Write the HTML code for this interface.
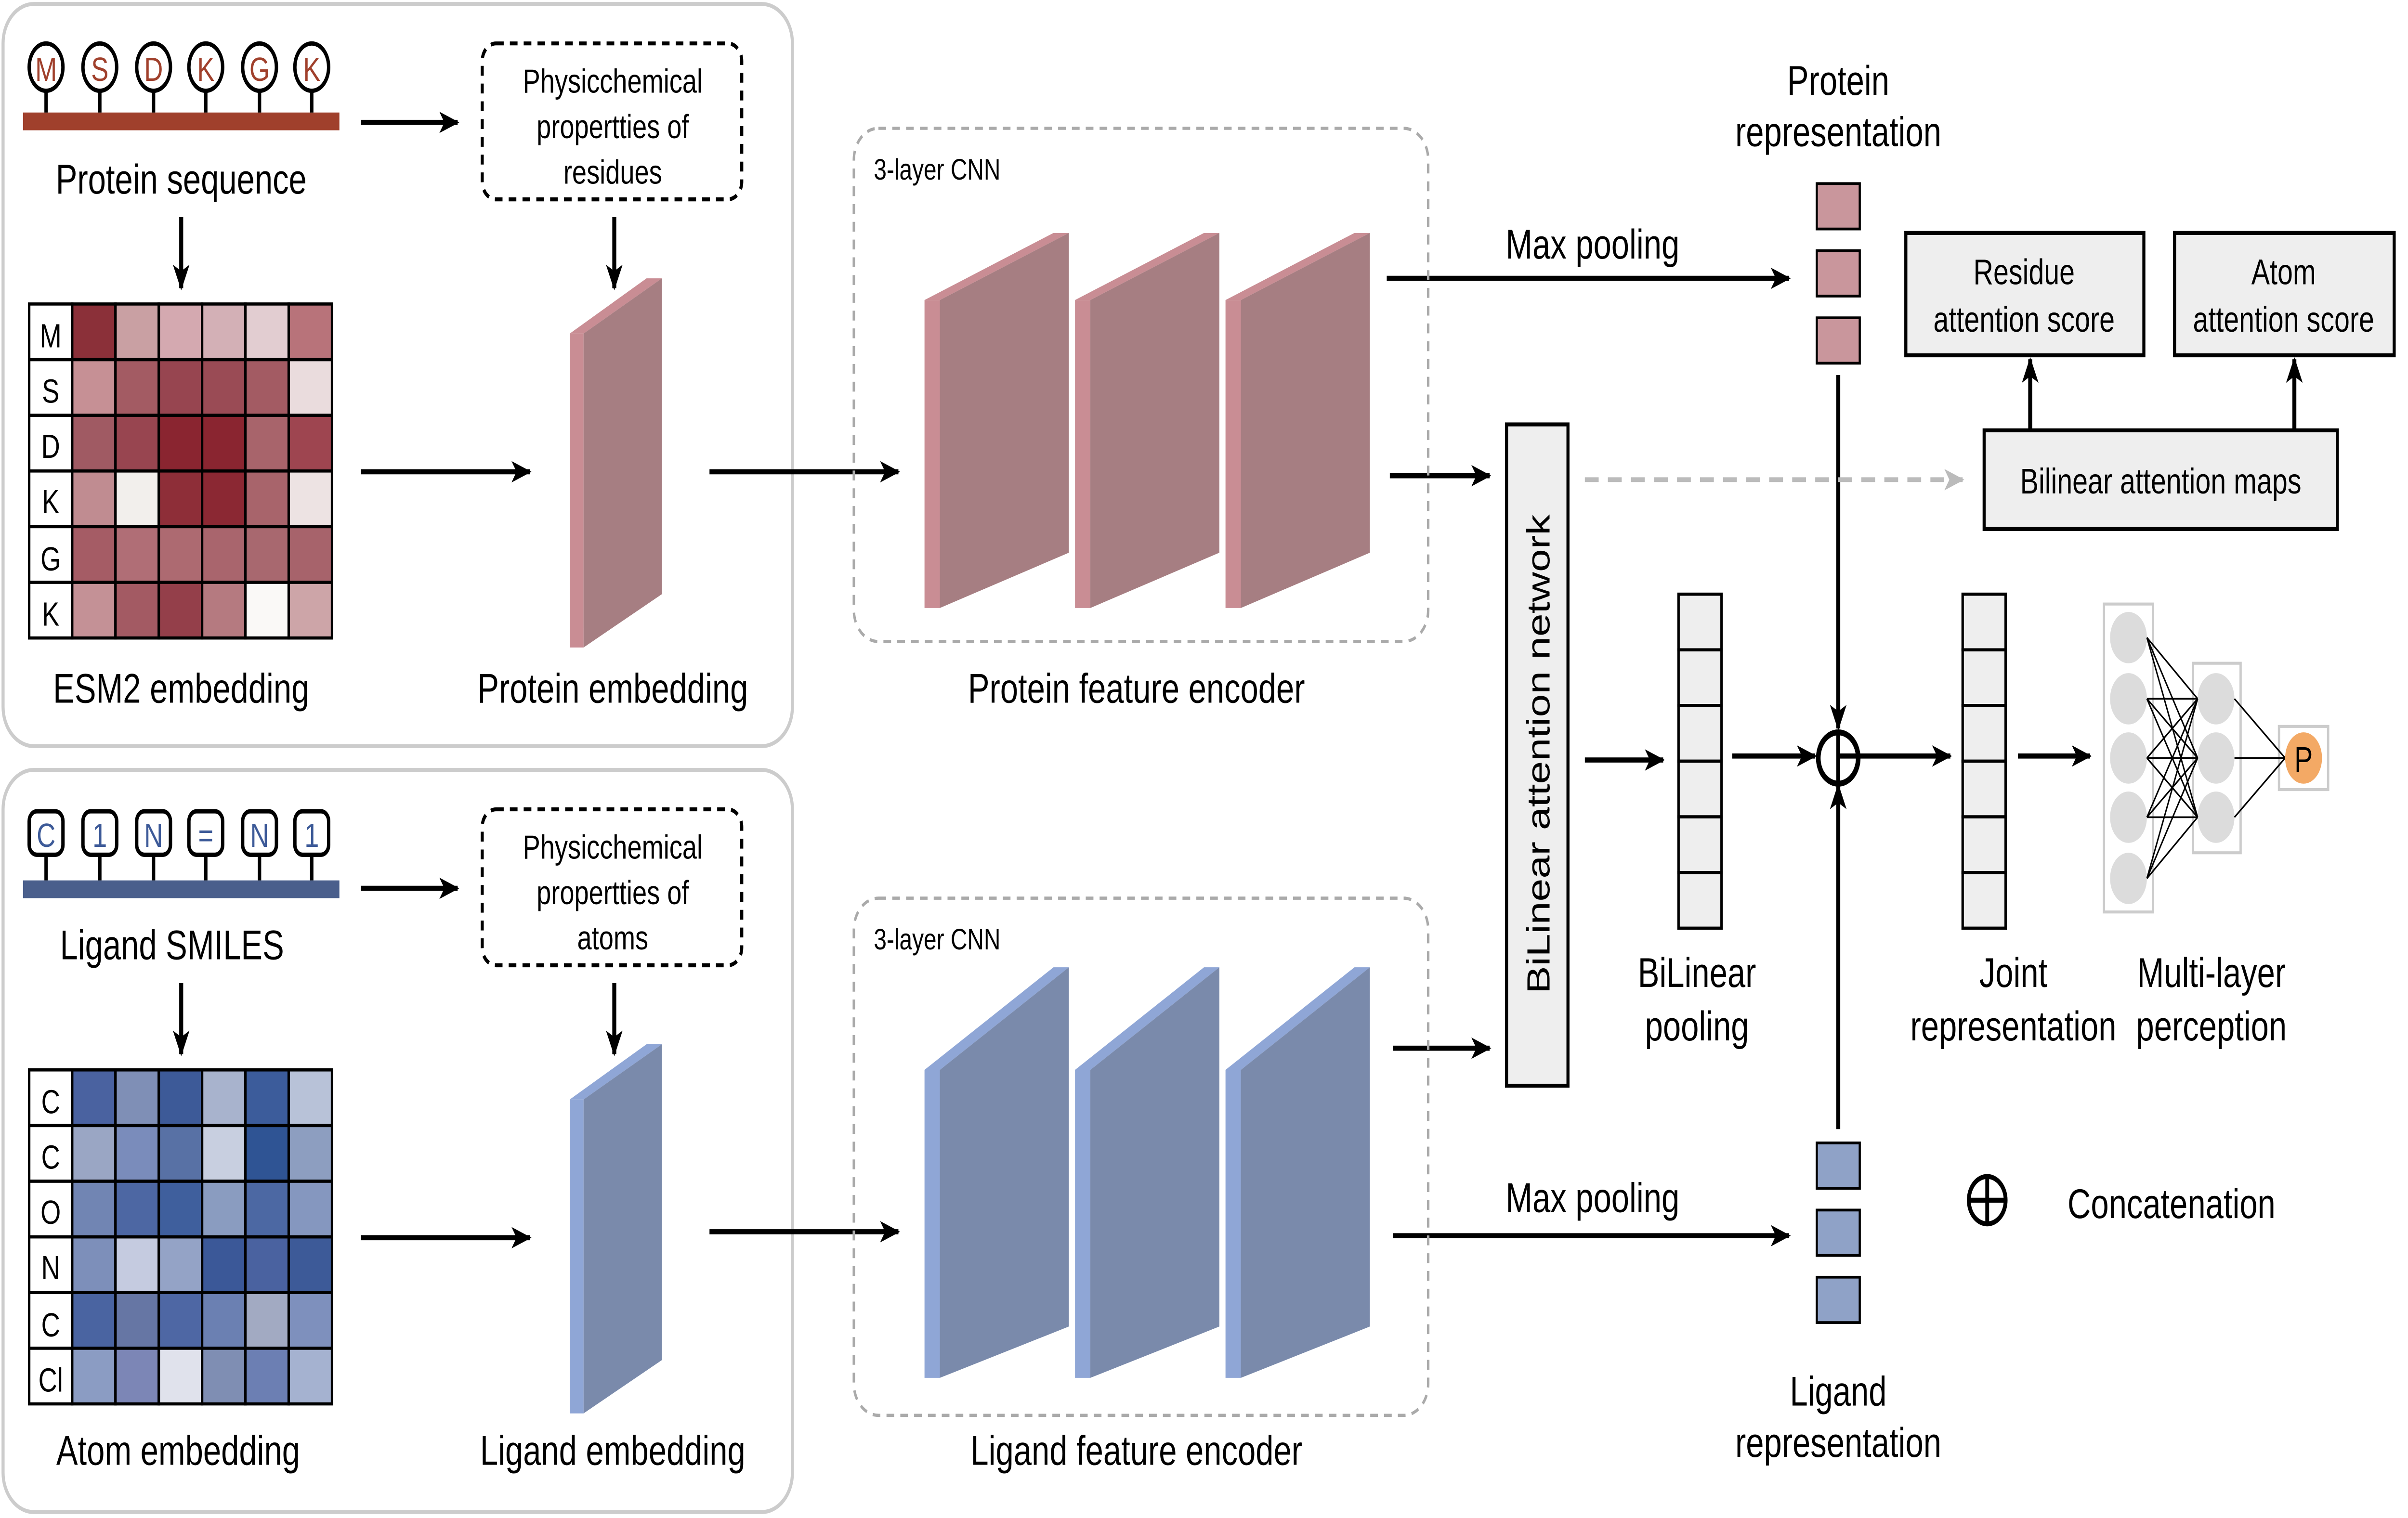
<!DOCTYPE html>
<html><head><meta charset="utf-8"><style>html,body{margin:0;padding:0;background:#fff;width:100%;height:100%;overflow:hidden}svg{display:block;width:100vw;height:100vh}</style></head><body>
<svg xmlns="http://www.w3.org/2000/svg" viewBox="0 0 1568 769" preserveAspectRatio="none" font-family="Liberation Sans, Arial, sans-serif">
<defs>
<marker id="ah" viewBox="0 0 12 10" refX="11" refY="5" markerWidth="13" markerHeight="11" markerUnits="userSpaceOnUse" orient="auto"><path d="M0,0 L12,5 L0,10 L3,5 z" fill="#000"/></marker>
<marker id="ag" viewBox="0 0 12 10" refX="11" refY="5" markerWidth="13" markerHeight="11" markerUnits="userSpaceOnUse" orient="auto"><path d="M0,0 L12,5 L0,10 L3,5 z" fill="#bbb"/></marker>
</defs>
<rect width="1568" height="769" fill="#fff"/>
<rect x="2" y="2" width="514" height="376" rx="20" fill="none" stroke="#ccc" stroke-width="2"/>
<rect x="2" y="390" width="514" height="376" rx="20" fill="none" stroke="#ccc" stroke-width="2"/>

<g stroke="#000" stroke-width="2.6" fill="none">
<line x1="235" y1="62" x2="298" y2="62" marker-end="url(#ah)"/>
<line x1="118" y1="110" x2="118" y2="146" marker-end="url(#ah)"/>
<line x1="400" y1="110" x2="400" y2="146" marker-end="url(#ah)"/>
<line x1="235" y1="239" x2="345" y2="239" marker-end="url(#ah)"/>
<line x1="462" y1="239" x2="585" y2="239" marker-end="url(#ah)"/>
<line x1="235" y1="450" x2="298" y2="450" marker-end="url(#ah)"/>
<line x1="118" y1="498" x2="118" y2="534" marker-end="url(#ah)"/>
<line x1="400" y1="498" x2="400" y2="534" marker-end="url(#ah)"/>
<line x1="235" y1="627" x2="345" y2="627" marker-end="url(#ah)"/>
<line x1="462" y1="624" x2="585" y2="624" marker-end="url(#ah)"/>
<line x1="903" y1="141" x2="1165" y2="141" marker-end="url(#ah)"/>
<line x1="905" y1="241" x2="970" y2="241" marker-end="url(#ah)"/>
<line x1="907" y1="626" x2="1165" y2="626" marker-end="url(#ah)"/>
<line x1="907" y1="531" x2="970" y2="531" marker-end="url(#ah)"/>
<line x1="1032" y1="385" x2="1083" y2="385" marker-end="url(#ah)"/>
<line x1="1128" y1="383" x2="1182" y2="383" marker-end="url(#ah)"/>
<line x1="1197" y1="383" x2="1270" y2="383" marker-end="url(#ah)"/>
<line x1="1314" y1="383" x2="1361" y2="383" marker-end="url(#ah)"/>
<line x1="1197" y1="190" x2="1197" y2="369" marker-end="url(#ah)"/>
<line x1="1197" y1="572" x2="1197" y2="398" marker-end="url(#ah)"/>
<line x1="1322" y1="218" x2="1322" y2="182" marker-end="url(#ah)"/>
<line x1="1494" y1="218" x2="1494" y2="182" marker-end="url(#ah)"/>
</g>
<line x1="1032" y1="243" x2="1278" y2="243" stroke="#bbb" stroke-width="2.4" stroke-dasharray="9,6" marker-end="url(#ag)"/>

<rect x="15" y="57" width="206" height="9" fill="#a0402c"/>
<g stroke="#000" stroke-width="2.2" fill="#fff">
<line x1="30" y1="44" x2="30" y2="57"/><line x1="65" y1="44" x2="65" y2="57"/><line x1="100" y1="44" x2="100" y2="57"/><line x1="134" y1="44" x2="134" y2="57"/><line x1="169" y1="44" x2="169" y2="57"/><line x1="203" y1="44" x2="203" y2="57"/>
<ellipse cx="30" cy="34" rx="11" ry="12"/><ellipse cx="65" cy="34" rx="11" ry="12"/><ellipse cx="100" cy="34" rx="11" ry="12"/><ellipse cx="134" cy="34" rx="11" ry="12"/><ellipse cx="169" cy="34" rx="11" ry="12"/><ellipse cx="203" cy="34" rx="11" ry="12"/>
</g>
<g fill="#a0402c" font-size="17" text-anchor="middle">
<text x="30" y="41">M</text><text x="65" y="41">S</text><text x="100" y="41">D</text><text x="134" y="41">K</text><text x="169" y="41">G</text><text x="203" y="41">K</text>
</g>
<rect x="15" y="446" width="206" height="9" fill="#4a5f8c"/>
<g stroke="#000" stroke-width="2.2" fill="#fff">
<line x1="30" y1="433" x2="30" y2="446"/><line x1="65" y1="433" x2="65" y2="446"/><line x1="100" y1="433" x2="100" y2="446"/><line x1="134" y1="433" x2="134" y2="446"/><line x1="169" y1="433" x2="169" y2="446"/><line x1="203" y1="433" x2="203" y2="446"/>
<rect x="19" y="411" width="22" height="22" rx="5"/><rect x="54" y="411" width="22" height="22" rx="5"/><rect x="89" y="411" width="22" height="22" rx="5"/><rect x="123" y="411" width="22" height="22" rx="5"/><rect x="158" y="411" width="22" height="22" rx="5"/><rect x="192" y="411" width="22" height="22" rx="5"/>
</g>
<g fill="#3d5a98" font-size="17" text-anchor="middle">
<text x="30" y="429">C</text><text x="65" y="429">1</text><text x="100" y="429">N</text><text x="134" y="429">=</text><text x="169" y="429">N</text><text x="203" y="429">1</text>
</g>

<g stroke="#000" stroke-width="1.6">
<g transform="translate(19,154)">
<rect x="0" y="0" width="28" height="28.2" fill="#fff"/><rect x="28" y="0" width="28.2" height="28.2" fill="#8b3039"/><rect x="56.2" y="0" width="28.2" height="28.2" fill="#c9a0a3"/><rect x="84.4" y="0" width="28.2" height="28.2" fill="#d4a9b0"/><rect x="112.6" y="0" width="28.2" height="28.2" fill="#d3b0b6"/><rect x="140.8" y="0" width="28.2" height="28.2" fill="#e2cdd1"/><rect x="169" y="0" width="28.2" height="28.2" fill="#b8737a"/>
<rect x="0" y="28.2" width="28" height="28.2" fill="#fff"/><rect x="28" y="28.2" width="28.2" height="28.2" fill="#c69095"/><rect x="56.2" y="28.2" width="28.2" height="28.2" fill="#a35b63"/><rect x="84.4" y="28.2" width="28.2" height="28.2" fill="#974550"/><rect x="112.6" y="28.2" width="28.2" height="28.2" fill="#9a4b55"/><rect x="140.8" y="28.2" width="28.2" height="28.2" fill="#a35b63"/><rect x="169" y="28.2" width="28.2" height="28.2" fill="#eadcdd"/>
<rect x="0" y="56.4" width="28" height="28.2" fill="#fff"/><rect x="28" y="56.4" width="28.2" height="28.2" fill="#a05a63"/><rect x="56.2" y="56.4" width="28.2" height="28.2" fill="#984550"/><rect x="84.4" y="56.4" width="28.2" height="28.2" fill="#8a2530"/><rect x="112.6" y="56.4" width="28.2" height="28.2" fill="#8a2530"/><rect x="140.8" y="56.4" width="28.2" height="28.2" fill="#a8646b"/><rect x="169" y="56.4" width="28.2" height="28.2" fill="#9e4550"/>
<rect x="0" y="84.6" width="28" height="28.2" fill="#fff"/><rect x="28" y="84.6" width="28.2" height="28.2" fill="#c08c91"/><rect x="56.2" y="84.6" width="28.2" height="28.2" fill="#f2efec"/><rect x="84.4" y="84.6" width="28.2" height="28.2" fill="#8e2e38"/><rect x="112.6" y="84.6" width="28.2" height="28.2" fill="#8b2833"/><rect x="140.8" y="84.6" width="28.2" height="28.2" fill="#a8646b"/><rect x="169" y="84.6" width="28.2" height="28.2" fill="#ede3e3"/>
<rect x="0" y="112.8" width="28" height="28.2" fill="#fff"/><rect x="28" y="112.8" width="28.2" height="28.2" fill="#a55c65"/><rect x="56.2" y="112.8" width="28.2" height="28.2" fill="#b06e76"/><rect x="84.4" y="112.8" width="28.2" height="28.2" fill="#ad6a71"/><rect x="112.6" y="112.8" width="28.2" height="28.2" fill="#a9656d"/><rect x="140.8" y="112.8" width="28.2" height="28.2" fill="#a8686f"/><rect x="169" y="112.8" width="28.2" height="28.2" fill="#a7636b"/>
<rect x="0" y="141" width="28" height="28.2" fill="#fff"/><rect x="28" y="141" width="28.2" height="28.2" fill="#c49196"/><rect x="56.2" y="141" width="28.2" height="28.2" fill="#a35a63"/><rect x="84.4" y="141" width="28.2" height="28.2" fill="#943f4a"/><rect x="112.6" y="141" width="28.2" height="28.2" fill="#b57a80"/><rect x="140.8" y="141" width="28.2" height="28.2" fill="#faf9f7"/><rect x="169" y="141" width="28.2" height="28.2" fill="#cda5a8"/>
</g>
<g transform="translate(19,542)">
<rect x="0" y="0" width="28" height="28.2" fill="#fff"/><rect x="28" y="0" width="28.2" height="28.2" fill="#4a62a0"/><rect x="56.2" y="0" width="28.2" height="28.2" fill="#7f8fb6"/><rect x="84.4" y="0" width="28.2" height="28.2" fill="#3d5a98"/><rect x="112.6" y="0" width="28.2" height="28.2" fill="#a8b3cd"/><rect x="140.8" y="0" width="28.2" height="28.2" fill="#3c5c9b"/><rect x="169" y="0" width="28.2" height="28.2" fill="#b8c2d8"/>
<rect x="0" y="28.2" width="28" height="28.2" fill="#fff"/><rect x="28" y="28.2" width="28.2" height="28.2" fill="#9aa6c4"/><rect x="56.2" y="28.2" width="28.2" height="28.2" fill="#7a8cbb"/><rect x="84.4" y="28.2" width="28.2" height="28.2" fill="#5871a5"/><rect x="112.6" y="28.2" width="28.2" height="28.2" fill="#c8cfe0"/><rect x="140.8" y="28.2" width="28.2" height="28.2" fill="#2f5494"/><rect x="169" y="28.2" width="28.2" height="28.2" fill="#8d9ec0"/>
<rect x="0" y="56.4" width="28" height="28.2" fill="#fff"/><rect x="28" y="56.4" width="28.2" height="28.2" fill="#7185b3"/><rect x="56.2" y="56.4" width="28.2" height="28.2" fill="#4d67a3"/><rect x="84.4" y="56.4" width="28.2" height="28.2" fill="#3f5f9d"/><rect x="112.6" y="56.4" width="28.2" height="28.2" fill="#8a9cc0"/><rect x="140.8" y="56.4" width="28.2" height="28.2" fill="#4c68a3"/><rect x="169" y="56.4" width="28.2" height="28.2" fill="#8597bf"/>
<rect x="0" y="84.6" width="28" height="28.2" fill="#fff"/><rect x="28" y="84.6" width="28.2" height="28.2" fill="#7d8fba"/><rect x="56.2" y="84.6" width="28.2" height="28.2" fill="#c5cbe0"/><rect x="84.4" y="84.6" width="28.2" height="28.2" fill="#94a3c6"/><rect x="112.6" y="84.6" width="28.2" height="28.2" fill="#3b5898"/><rect x="140.8" y="84.6" width="28.2" height="28.2" fill="#4a62a0"/><rect x="169" y="84.6" width="28.2" height="28.2" fill="#3d5a98"/>
<rect x="0" y="112.8" width="28" height="28.2" fill="#fff"/><rect x="28" y="112.8" width="28.2" height="28.2" fill="#4a64a1"/><rect x="56.2" y="112.8" width="28.2" height="28.2" fill="#6676a4"/><rect x="84.4" y="112.8" width="28.2" height="28.2" fill="#4e67a4"/><rect x="112.6" y="112.8" width="28.2" height="28.2" fill="#6b80b2"/><rect x="140.8" y="112.8" width="28.2" height="28.2" fill="#a2aac2"/><rect x="169" y="112.8" width="28.2" height="28.2" fill="#7e90bd"/>
<rect x="0" y="141" width="28" height="28.2" fill="#fff"/><rect x="28" y="141" width="28.2" height="28.2" fill="#8b9cc3"/><rect x="56.2" y="141" width="28.2" height="28.2" fill="#7c86b6"/><rect x="84.4" y="141" width="28.2" height="28.2" fill="#e0e2ec"/><rect x="112.6" y="141" width="28.2" height="28.2" fill="#7f8eb3"/><rect x="140.8" y="141" width="28.2" height="28.2" fill="#6c7fb3"/><rect x="169" y="141" width="28.2" height="28.2" fill="#a5b2d0"/>
</g>
</g>
<g font-size="17" text-anchor="middle" fill="#000">
<text x="33" y="176">M</text><text x="33" y="204">S</text><text x="33" y="232">D</text><text x="33" y="260">K</text><text x="33" y="289">G</text><text x="33" y="317">K</text>
<text x="33" y="564">C</text><text x="33" y="592">C</text><text x="33" y="620">O</text><text x="33" y="648">N</text><text x="33" y="677">C</text><text x="33" y="705">Cl</text>
</g>

<rect x="314" y="22" width="169" height="79" rx="9" fill="none" stroke="#000" stroke-width="2" stroke-dasharray="5,4"/>
<rect x="314" y="410" width="169" height="79" rx="9" fill="none" stroke="#000" stroke-width="2" stroke-dasharray="5,4"/>
<g font-size="17" text-anchor="middle">
<text x="399" y="47">Physicchemical</text><text x="399" y="70">propertties of</text><text x="399" y="93">residues</text>
<text x="399" y="435">Physicchemical</text><text x="399" y="458">propertties of</text><text x="399" y="481">atoms</text>
</g>

<polygon points="371,169 380,169 380,328 371,328" fill="#c98d94"/>
<polygon points="371,169 421,141 431,141 380,169" fill="#c98d94"/>
<polygon points="380,169 431,141 431,301 380,328" fill="#a67e82"/>
<polygon points="371,557 380,557 380,716 371,716" fill="#8fa6d6"/>
<polygon points="371,557 421,529 431,529 380,557" fill="#8fa6d6"/>
<polygon points="380,557 431,529 431,689 380,716" fill="#7a8aab"/>

<rect x="556" y="65" width="374" height="260" rx="16" fill="none" stroke="#aaa" stroke-width="1.6" stroke-dasharray="5,4"/>
<rect x="556" y="455" width="374" height="262" rx="16" fill="none" stroke="#aaa" stroke-width="1.6" stroke-dasharray="5,4"/>
<g id="ps">
<polygon points="602,152 612,152 612,308 602,308" fill="#c98d94"/>
<polygon points="602,152 686,118 696,118 612,152" fill="#c98d94"/>
<polygon points="612,152 696,118 696,280 612,308" fill="#a67e82"/>
</g>
<use href="#ps" x="98"/><use href="#ps" x="196"/>
<g id="ls">
<polygon points="602,542 612,542 612,698 602,698" fill="#8fa6d6"/>
<polygon points="602,542 686,490 696,490 612,542" fill="#8fa6d6"/>
<polygon points="612,542 696,490 696,672 612,698" fill="#7a8aab"/>
</g>
<use href="#ls" x="98"/><use href="#ls" x="196"/>
<g font-size="15"><text x="569" y="91">3-layer CNN</text><text x="569" y="481">3-layer CNN</text></g>

<g font-size="21" text-anchor="middle" fill="#000">
<text x="118" y="98">Protein sequence</text>
<text x="118" y="356">ESM2 embedding</text>
<text x="399" y="356">Protein embedding</text>
<text x="740" y="356">Protein feature encoder</text>
<text x="112" y="486">Ligand SMILES</text>
<text x="116" y="742">Atom embedding</text>
<text x="399" y="742">Ligand embedding</text>
<text x="740" y="742">Ligand feature encoder</text>
<text x="1037" y="131">Max pooling</text>
<text x="1037" y="614">Max pooling</text>
<text x="1197" y="48">Protein</text><text x="1197" y="74">representation</text>
<text x="1197" y="712">Ligand</text><text x="1197" y="738">representation</text>
<text x="1105" y="500">BiLinear</text><text x="1105" y="527">pooling</text>
<text x="1311" y="500">Joint</text><text x="1311" y="527">representation</text>
<text x="1440" y="500">Multi-layer</text><text x="1440" y="527">perception</text>
<text x="1414" y="617">Concatenation</text>
</g>

<g stroke="#000" stroke-width="1.4">
<rect x="1183" y="93" width="28" height="23" fill="#c9969c"/><rect x="1183" y="127" width="28" height="23" fill="#c9969c"/><rect x="1183" y="161" width="28" height="23" fill="#c9969c"/>
<rect x="1183" y="579" width="28" height="23" fill="#8fa2c7"/><rect x="1183" y="613" width="28" height="23" fill="#8fa2c7"/><rect x="1183" y="647" width="28" height="23" fill="#8fa2c7"/>
</g>

<rect x="981" y="215" width="40" height="335" fill="#eee" stroke="#000" stroke-width="2"/>
<text transform="translate(1009,382) rotate(-90)" font-size="21" text-anchor="middle">BiLinear attention network</text>

<g stroke="#000" stroke-width="2" fill="#eee">
<rect x="1241" y="118" width="155" height="62"/>
<rect x="1416" y="118" width="143" height="62"/>
<rect x="1292" y="218" width="230" height="50"/>
</g>
<g font-size="18" text-anchor="middle">
<text x="1318" y="144">Residue</text><text x="1318" y="168">attention score</text>
<text x="1487" y="144">Atom</text><text x="1487" y="168">attention score</text>
<text x="1407" y="250">Bilinear attention maps</text>
</g>

<g stroke="#000" stroke-width="1.6" fill="#eee">
<rect x="1093" y="301" width="28" height="28.2"/><rect x="1093" y="329.2" width="28" height="28.2"/><rect x="1093" y="357.4" width="28" height="28.2"/><rect x="1093" y="385.6" width="28" height="28.2"/><rect x="1093" y="413.8" width="28" height="28.2"/><rect x="1093" y="442" width="28" height="28.2"/>
<rect x="1278" y="301" width="28" height="28.2"/><rect x="1278" y="329.2" width="28" height="28.2"/><rect x="1278" y="357.4" width="28" height="28.2"/><rect x="1278" y="385.6" width="28" height="28.2"/><rect x="1278" y="413.8" width="28" height="28.2"/><rect x="1278" y="442" width="28" height="28.2"/>
</g>

<circle cx="1197" cy="384" r="13" fill="none" stroke="#000" stroke-width="3"/>
<line x1="1197" y1="371" x2="1197" y2="397" stroke="#000" stroke-width="2.5"/>
<circle cx="1294" cy="608" r="12" fill="none" stroke="#000" stroke-width="2.5"/>
<line x1="1282" y1="608" x2="1306" y2="608" stroke="#000" stroke-width="2.5"/>
<line x1="1294" y1="596" x2="1294" y2="620" stroke="#000" stroke-width="2.5"/>

<rect x="1370" y="306" width="32" height="156" fill="none" stroke="#ccc" stroke-width="1.5"/>
<rect x="1428" y="336" width="31" height="96" fill="none" stroke="#ccc" stroke-width="1.5"/>
<rect x="1484" y="368" width="32" height="32" fill="none" stroke="#ccc" stroke-width="1.5"/>
<g fill="#dcdcdc">
<ellipse cx="1386" cy="323" rx="12" ry="13"/><ellipse cx="1386" cy="354" rx="12" ry="13"/><ellipse cx="1386" cy="384" rx="12" ry="13"/><ellipse cx="1386" cy="414" rx="12" ry="13"/><ellipse cx="1386" cy="445" rx="12" ry="13"/>
<ellipse cx="1443" cy="354" rx="12" ry="13"/><ellipse cx="1443" cy="384" rx="12" ry="13"/><ellipse cx="1443" cy="414" rx="12" ry="13"/>
</g>
<g stroke="#000" stroke-width="0.9">
<line x1="1398" y1="323" x2="1431" y2="354"/><line x1="1398" y1="323" x2="1431" y2="384"/><line x1="1398" y1="323" x2="1431" y2="414"/>
<line x1="1398" y1="354" x2="1431" y2="354"/><line x1="1398" y1="354" x2="1431" y2="384"/><line x1="1398" y1="354" x2="1431" y2="414"/>
<line x1="1398" y1="384" x2="1431" y2="354"/><line x1="1398" y1="384" x2="1431" y2="384"/><line x1="1398" y1="384" x2="1431" y2="414"/>
<line x1="1398" y1="414" x2="1431" y2="354"/><line x1="1398" y1="414" x2="1431" y2="384"/><line x1="1398" y1="414" x2="1431" y2="414"/>
<line x1="1398" y1="445" x2="1431" y2="354"/><line x1="1398" y1="445" x2="1431" y2="384"/><line x1="1398" y1="445" x2="1431" y2="414"/>
<line x1="1455" y1="354" x2="1488" y2="384"/><line x1="1455" y1="384" x2="1488" y2="384"/><line x1="1455" y1="414" x2="1488" y2="384"/>
</g>
<ellipse cx="1500" cy="384" rx="12" ry="13" fill="#f3a965"/>
<text x="1500" y="391" font-size="18" text-anchor="middle">P</text>
</svg>
</body></html>
